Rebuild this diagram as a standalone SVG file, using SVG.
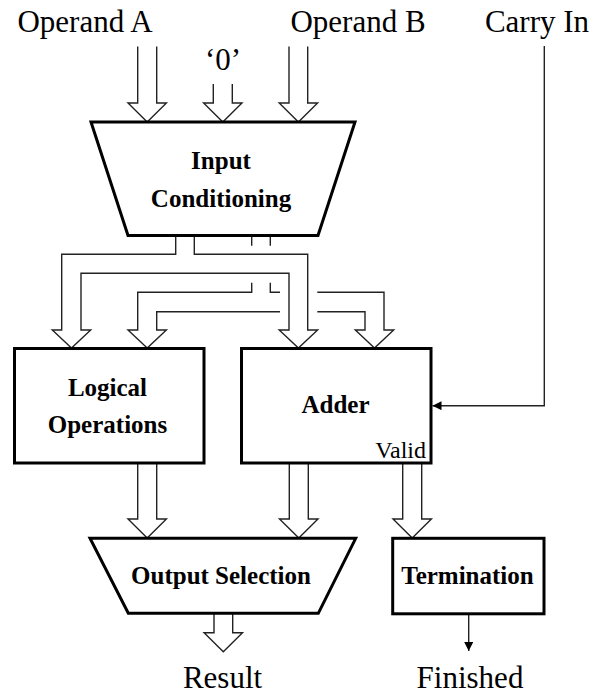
<svg xmlns="http://www.w3.org/2000/svg" width="592" height="694" viewBox="0 0 592 694">
<style>
.blk{fill:#fff;stroke:#000;stroke-width:3;stroke-linejoin:miter}
.bus{fill:none;stroke:#222;stroke-width:1.4;stroke-linejoin:miter}
.wire{fill:none;stroke:#222;stroke-width:1.4}
.lbl{font-family:"Liberation Serif","Times New Roman",serif;font-size:31px;fill:#000}
.nl{font-family:"Liberation Serif","Times New Roman",serif;font-size:25px;font-weight:bold;fill:#000;text-anchor:middle}
.sm{font-family:"Liberation Serif","Times New Roman",serif;font-size:24px;fill:#000}
</style>
<defs>
<marker id="ah" viewBox="0 0 10 10" refX="10" refY="5" markerWidth="9" markerHeight="9" markerUnits="userSpaceOnUse" orient="auto">
<path d="M0,0 L10,5 L0,10 Z" fill="#000"/>
</marker>
</defs>

<g id="labels">
<text class="lbl" x="85" y="31.5" text-anchor="middle">Operand A</text>
<text class="lbl" x="223" y="70" text-anchor="middle">‘0’</text>
<text class="lbl" x="358" y="31.5" text-anchor="middle">Operand B</text>
<text class="lbl" x="537" y="31.5" text-anchor="middle">Carry In</text>
<text class="lbl" x="222.5" y="688" text-anchor="middle">Result</text>
<text class="lbl" x="470" y="688" text-anchor="middle">Finished</text>
</g>

<g id="connectors">
<!-- input arrows -->
<path class="bus" d="M137.7,46.5 V103 H128 L147.2,122 L166.4,103 H156.7 V46.5"/>
<path class="bus" d="M213.3,84 V103 H203.6 L222.8,122 L242,103 H232.3 V84"/>
<path class="bus" d="M289,46.5 V103 H279.2 L298.4,122 L317.6,103 H307.7 V46.5"/>
<!-- bus 1 -->
<path class="bus" d="M175.7,235 V254.3 H61.7 V330 H52.3 L71.5,348 L90.7,330 H81 V273.3 H289 V330 H279.2 L298.4,348 L317.6,330 H307.7 V254.3 H194.3 V235"/>
<!-- bus 2 -->
<path class="bus" d="M251.7,235 V245.7 M270.3,235 V245.7"/>
<path class="bus" d="M251.7,282.7 V292.3 H137.7 V330 H128 L147.2,348 L166.4,330 H156.7 V311.7 H280"/>
<path class="bus" d="M270.3,282.7 V292.3 H280"/>
<path class="bus" d="M317.3,292.3 H384 V330 H393.7 L374.5,348 L355.3,330 H365 V311.7 H317.3"/>
<!-- outputs -->
<path class="bus" d="M137.7,463 V519 H128 L147.2,538 L166.4,519 H156.7 V463"/>
<path class="bus" d="M289.3,463 V519 H279.5 L298.8,538 L318,519 H308.3 V463"/>
<path class="bus" d="M402.7,463 V519 H393 L412.2,538 L431.4,519 H421.7 V463"/>
<path class="bus" d="M214,613 V632.7 H204.1 L223.3,651.7 L242.5,632.7 H232.7 V613"/>
<!-- carry in -->
<path class="wire" d="M544.3,46 V405.7 H432.5" marker-end="url(#ah)"/>
<!-- finished -->
<path class="wire" d="M468.7,614 V651" marker-end="url(#ah)"/>
</g>

<g id="input-conditioning">
<path class="blk" d="M91,122 H355 L318,235.5 H128 Z"/>
<text class="nl" x="221" y="169.3">Input</text>
<text class="nl" x="221" y="206.5">Conditioning</text>
</g>

<g id="logical-operations">
<rect class="blk" x="14.5" y="348.5" width="189.5" height="114.5"/>
<text class="nl" x="107.5" y="396">Logical</text>
<text class="nl" x="107.5" y="433">Operations</text>
</g>

<g id="adder">
<rect class="blk" x="241.5" y="348.5" width="189.5" height="114.5"/>
<text class="nl" x="335.5" y="412.7">Adder</text>
<text class="sm" x="426" y="458" text-anchor="end">Valid</text>
</g>

<g id="output-selection">
<path class="blk" d="M90,538.3 H355.7 L318.3,613.3 H128.3 Z"/>
<text class="nl" x="221" y="584.3">Output Selection</text>
</g>

<g id="termination">
<rect class="blk" x="392.7" y="538.3" width="151.3" height="75.5"/>
<text class="nl" x="467.5" y="584.3">Termination</text>
</g>
</svg>
